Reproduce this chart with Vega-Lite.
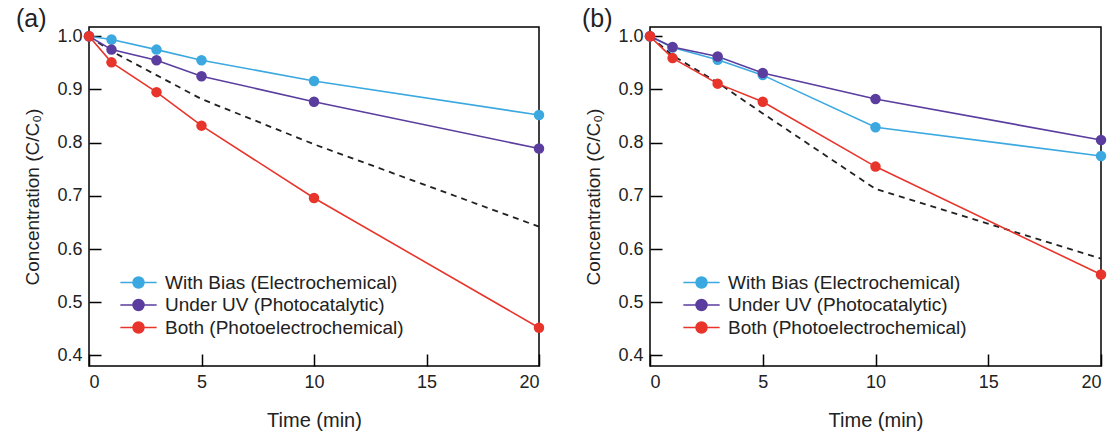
{
  "$schema": "https://vega.github.io/schema/vega-lite/v6.json",
  "background": "white",
  "padding": {"left": 15, "top": 6, "right": 5, "bottom": 0},
  "config": {
    "font": "Liberation Sans",
    "view": {"stroke": "black", "strokeWidth": 1.5},
    "axis": {
      "domain": false, "grid": false,
      "tickSize": -12, "tickColor": "black", "tickWidth": 1.5,
      "labelFontSize": 18, "labelColor": "#222", "labelPadding": 19,
      "titleFontSize": 19, "titleFontWeight": "normal", "titleColor": "#222",
      "labelFont": "Liberation Sans", "titleFont": "Liberation Sans"
    },
    "concat": {"spacing": 36},
    "legend": {
      "orient": "none", "title": null, "padding": 0, "labelLimit": 0,
      "labelFontSize": 19, "labelColor": "#222", "labelFont": "Liberation Sans",
      "symbolType": "M-3.3,0H3.3M-1,0A1,1 0 1,1 1,0A1,1 0 1,1 -1,0Z",
      "symbolSize": 121, "symbolStrokeWidth": 1.5, "labelOffset": 17, "rowPadding": 2.5
    }
  },
  "datasets": {
    "curves": [
      {"panel": "a", "series": "With Bias (Electrochemical)", "time": 0, "value": 1.0},
      {"panel": "a", "series": "With Bias (Electrochemical)", "time": 1, "value": 0.994},
      {"panel": "a", "series": "With Bias (Electrochemical)", "time": 3, "value": 0.975},
      {"panel": "a", "series": "With Bias (Electrochemical)", "time": 5, "value": 0.955},
      {"panel": "a", "series": "With Bias (Electrochemical)", "time": 10, "value": 0.916},
      {"panel": "a", "series": "With Bias (Electrochemical)", "time": 20, "value": 0.852},
      {"panel": "a", "series": "Under UV (Photocatalytic)", "time": 0, "value": 1.0},
      {"panel": "a", "series": "Under UV (Photocatalytic)", "time": 1, "value": 0.975},
      {"panel": "a", "series": "Under UV (Photocatalytic)", "time": 3, "value": 0.955},
      {"panel": "a", "series": "Under UV (Photocatalytic)", "time": 5, "value": 0.925},
      {"panel": "a", "series": "Under UV (Photocatalytic)", "time": 10, "value": 0.877},
      {"panel": "a", "series": "Under UV (Photocatalytic)", "time": 20, "value": 0.789},
      {"panel": "a", "series": "Both (Photoelectrochemical)", "time": 0, "value": 1.0},
      {"panel": "a", "series": "Both (Photoelectrochemical)", "time": 1, "value": 0.951},
      {"panel": "a", "series": "Both (Photoelectrochemical)", "time": 3, "value": 0.895},
      {"panel": "a", "series": "Both (Photoelectrochemical)", "time": 5, "value": 0.832},
      {"panel": "a", "series": "Both (Photoelectrochemical)", "time": 10, "value": 0.696},
      {"panel": "a", "series": "Both (Photoelectrochemical)", "time": 20, "value": 0.452},
      {"panel": "b", "series": "With Bias (Electrochemical)", "time": 0, "value": 1.0},
      {"panel": "b", "series": "With Bias (Electrochemical)", "time": 1, "value": 0.979},
      {"panel": "b", "series": "With Bias (Electrochemical)", "time": 3, "value": 0.956},
      {"panel": "b", "series": "With Bias (Electrochemical)", "time": 5, "value": 0.927},
      {"panel": "b", "series": "With Bias (Electrochemical)", "time": 10, "value": 0.829},
      {"panel": "b", "series": "With Bias (Electrochemical)", "time": 20, "value": 0.775},
      {"panel": "b", "series": "Under UV (Photocatalytic)", "time": 0, "value": 1.0},
      {"panel": "b", "series": "Under UV (Photocatalytic)", "time": 1, "value": 0.980},
      {"panel": "b", "series": "Under UV (Photocatalytic)", "time": 3, "value": 0.962},
      {"panel": "b", "series": "Under UV (Photocatalytic)", "time": 5, "value": 0.931},
      {"panel": "b", "series": "Under UV (Photocatalytic)", "time": 10, "value": 0.882},
      {"panel": "b", "series": "Under UV (Photocatalytic)", "time": 20, "value": 0.805},
      {"panel": "b", "series": "Both (Photoelectrochemical)", "time": 0, "value": 1.0},
      {"panel": "b", "series": "Both (Photoelectrochemical)", "time": 1, "value": 0.959},
      {"panel": "b", "series": "Both (Photoelectrochemical)", "time": 3, "value": 0.911},
      {"panel": "b", "series": "Both (Photoelectrochemical)", "time": 5, "value": 0.877},
      {"panel": "b", "series": "Both (Photoelectrochemical)", "time": 10, "value": 0.755},
      {"panel": "b", "series": "Both (Photoelectrochemical)", "time": 20, "value": 0.552}
    ],
    "dashed": [
      {"panel": "a", "time": 0, "value": 1.0},
      {"panel": "a", "time": 1, "value": 0.972},
      {"panel": "a", "time": 3, "value": 0.927},
      {"panel": "a", "time": 5, "value": 0.882},
      {"panel": "a", "time": 10, "value": 0.797},
      {"panel": "a", "time": 20, "value": 0.642},
      {"panel": "b", "time": 0, "value": 1.0},
      {"panel": "b", "time": 1, "value": 0.964},
      {"panel": "b", "time": 3, "value": 0.913},
      {"panel": "b", "time": 5, "value": 0.855},
      {"panel": "b", "time": 10, "value": 0.713},
      {"panel": "b", "time": 20, "value": 0.582}
    ]
  },
  "hconcat": [
    {
      "width": 450, "height": 339,
      "title": {"text": "(a)", "anchor": "start", "frame": "bounds", "fontSize": 25, "fontWeight": "normal", "color": "#222", "offset": -5, "dx": -8},
      "layer": [
        {
          "data": {"name": "dashed"},
          "transform": [{"filter": "datum.panel == 'a'"}],
          "mark": {"type": "line", "stroke": "#222", "strokeDash": [6, 5], "strokeWidth": 1.8},
          "encoding": {
            "x": {"field": "time", "type": "quantitative", "scale": {"domain": [0, 20], "nice": false}, "axis": {"values": [0, 5, 10, 15, 20], "title": "Time (min)", "titlePadding": 19, "titleFontSize": 20}},
            "y": {"field": "value", "type": "quantitative", "scale": {"domain": [0.38, 1.0175], "nice": false, "zero": false}, "axis": {"values": [0.4, 0.5, 0.6, 0.7, 0.8, 0.9, 1.0], "format": ".1f", "title": "Concentration (C/C₀)", "titlePadding": 14}}
          }
        },
        {
          "data": {"name": "curves"},
          "transform": [{"filter": "datum.panel == 'a'"}],
          "mark": {"type": "line", "strokeWidth": 1.6},
          "encoding": {
            "x": {"field": "time", "type": "quantitative"},
            "y": {"field": "value", "type": "quantitative"},
            "color": {"field": "series", "type": "nominal", "sort": null,
              "scale": {"domain": ["With Bias (Electrochemical)", "Under UV (Photocatalytic)", "Both (Photoelectrochemical)"], "range": ["#3ba9e0", "#5a3d9e", "#e8352c"]},
              "legend": {"legendX": 40, "legendY": 246}}
          }
        },
        {
          "data": {"name": "curves"},
          "transform": [{"filter": "datum.panel == 'a'"}],
          "mark": {"type": "point", "filled": true, "size": 110, "opacity": 1},
          "encoding": {
            "x": {"field": "time", "type": "quantitative"},
            "y": {"field": "value", "type": "quantitative"},
            "color": {"field": "series", "type": "nominal", "sort": null}
          }
        }
      ]
    },
    {
      "width": 451, "height": 339,
      "title": {"text": "(b)", "anchor": "start", "frame": "bounds", "fontSize": 25, "fontWeight": "normal", "color": "#222", "offset": -5, "dx": -3},
      "layer": [
        {
          "data": {"name": "dashed"},
          "transform": [{"filter": "datum.panel == 'b'"}],
          "mark": {"type": "line", "stroke": "#222", "strokeDash": [6, 5], "strokeWidth": 1.8},
          "encoding": {
            "x": {"field": "time", "type": "quantitative", "scale": {"domain": [0, 20], "nice": false}, "axis": {"values": [0, 5, 10, 15, 20], "title": "Time (min)", "titlePadding": 19, "titleFontSize": 20}},
            "y": {"field": "value", "type": "quantitative", "scale": {"domain": [0.38, 1.0175], "nice": false, "zero": false}, "axis": {"values": [0.4, 0.5, 0.6, 0.7, 0.8, 0.9, 1.0], "format": ".1f", "title": "Concentration (C/C₀)", "titlePadding": 14}}
          }
        },
        {
          "data": {"name": "curves"},
          "transform": [{"filter": "datum.panel == 'b'"}],
          "mark": {"type": "line", "strokeWidth": 1.6},
          "encoding": {
            "x": {"field": "time", "type": "quantitative"},
            "y": {"field": "value", "type": "quantitative"},
            "color": {"field": "series", "type": "nominal", "sort": null,
              "scale": {"domain": ["With Bias (Electrochemical)", "Under UV (Photocatalytic)", "Both (Photoelectrochemical)"], "range": ["#3ba9e0", "#5a3d9e", "#e8352c"]},
              "legend": {"legendX": 42, "legendY": 246}}
          }
        },
        {
          "data": {"name": "curves"},
          "transform": [{"filter": "datum.panel == 'b'"}],
          "mark": {"type": "point", "filled": true, "size": 110, "opacity": 1},
          "encoding": {
            "x": {"field": "time", "type": "quantitative"},
            "y": {"field": "value", "type": "quantitative"},
            "color": {"field": "series", "type": "nominal", "sort": null}
          }
        }
      ]
    }
  ],
  "resolve": {"scale": {"color": "independent"}, "legend": {"color": "independent"}}
}
